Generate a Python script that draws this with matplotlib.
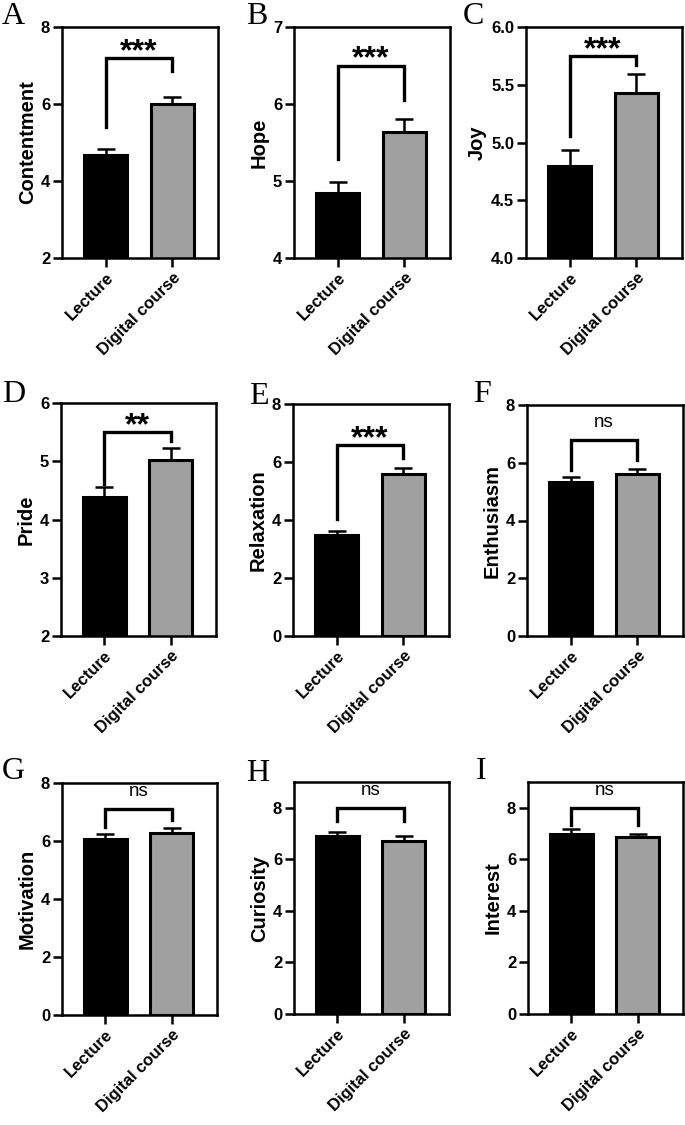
import numpy as np
import matplotlib
matplotlib.use("Agg")
import matplotlib.pyplot as plt

plt.rcParams['font.family'] = ['Liberation Sans', 'DejaVu Sans']

groups = ["Lecture", "Digital course"]
panels = ["A", "B", "C", "D", "E", "F", "G", "H", "I"]
ylabels = ["Contentment", "Hope", "Joy", "Pride", "Relaxation", "Enthusiasm",
           "Motivation", "Curiosity", "Interest"]
lecture = [4.68, 4.84, 4.80, 4.38, 3.48, 5.35, 6.08, 6.89, 7.00]
digital = [6.01, 5.63, 5.43, 5.03, 5.59, 5.60, 6.27, 6.73, 6.85]
lecture_err = [0.14, 0.15, 0.135, 0.17, 0.15, 0.15, 0.15, 0.16, 0.16]
digital_err = [0.18, 0.18, 0.16, 0.19, 0.20, 0.18, 0.17, 0.17, 0.15]
sig = ["***", "***", "***", "**", "***", "ns", "ns", "ns", "ns"]
ylims = [(2, 8), (4, 7), (4, 6), (2, 6), (0, 8), (0, 8), (0, 8), (0, 9), (0, 9)]
yticks = [[2, 4, 6, 8], [4, 5, 6, 7], [4.0, 4.5, 5.0, 5.5, 6.0], [2, 3, 4, 5, 6],
          [0, 2, 4, 6, 8], [0, 2, 4, 6, 8], [0, 2, 4, 6, 8], [0, 2, 4, 6, 8], [0, 2, 4, 6, 8]]
# bracket: top, left leg end, right leg end
br_top = [7.2, 6.5, 5.75, 5.5, 6.6, 6.8, 7.1, 8.0, 8.0]
br_left = [5.41, 5.29, 5.06, 4.61, 4.04, 5.76, 6.47, 7.5, 7.35]
br_right = [6.86, 6.05, 5.67, 5.34, 6.13, 6.1, 6.72, 7.5, 7.35]

W, H = 685, 1125
fig = plt.figure(figsize=(W / 100, H / 100), dpi=100)

# axes boxes in pixels: left, top, right, bottom
boxes = [(62, 27, 218, 258), (294, 27, 450, 258), (526, 27, 682, 258),
         (61, 403, 216, 636), (293, 404, 449, 636), (527, 405, 683, 636),
         (62, 783, 217, 1015), (294, 782, 449, 1014), (528, 782, 683, 1014)]
letter_pos = [(2, 2), (246, 2), (463, 2), (2, 380), (249, 382), (473, 380),
              (2, 757), (246, 759), (476, 757)]

for i in range(9):
    l, t, r, b = boxes[i]
    ax = fig.add_axes([l / W, 1 - b / H, (r - l) / W, (b - t) / H])
    x = np.arange(2)
    ax.bar(x, [lecture[i], digital[i]], width=0.64, color=["black", "#a0a0a0"],
           edgecolor="black", linewidth=2.2, zorder=2)
    ax.errorbar(x, [lecture[i], digital[i]], yerr=[[0, 0], [lecture_err[i], digital_err[i]]],
                fmt="none", ecolor="black", elinewidth=1.8, capsize=6.5, capthick=1.8, zorder=1)
    ax.plot([0, 0, 1, 1], [br_left[i], br_top[i], br_top[i], br_right[i]],
            color="black", lw=2.4, solid_joinstyle="miter", clip_on=False)
    span = ylims[i][1] - ylims[i][0]
    if sig[i] == "ns":
        ax.text(0.5, br_top[i] + 0.075 * span, "ns", ha="center", va="center", fontsize=13.5)
    else:
        ax.text(0.5, br_top[i] + 0.025 * span, sig[i], ha="center", va="center",
                fontsize=23, fontweight="bold")
    ax.set_xlim(-0.65, 1.68)
    ax.set_ylim(*ylims[i])
    ax.set_yticks(yticks[i])
    if i == 2:
        ax.set_yticklabels(["%.1f" % v for v in yticks[i]])
    ax.set_xticks(x)
    ax.set_xticklabels(groups, rotation=45, ha="right", rotation_mode="anchor")
    ax.set_ylabel(ylabels[i], fontsize=14.5, fontweight="bold", labelpad=3)
    for s in ax.spines.values():
        s.set_linewidth(1.8)
    ax.tick_params(axis="both", direction="out", width=1.8, length=6.5,
                   labelsize=12, pad=2)
    for lab in ax.get_xticklabels() + ax.get_yticklabels():
        lab.set_fontweight("bold")
    lx, ly = letter_pos[i]
    fig.text(lx / W, 1 - ly / H, panels[i], ha="left", va="top", fontsize=23,
             family="Liberation Serif")

fig.savefig("out.png", dpi=100)
